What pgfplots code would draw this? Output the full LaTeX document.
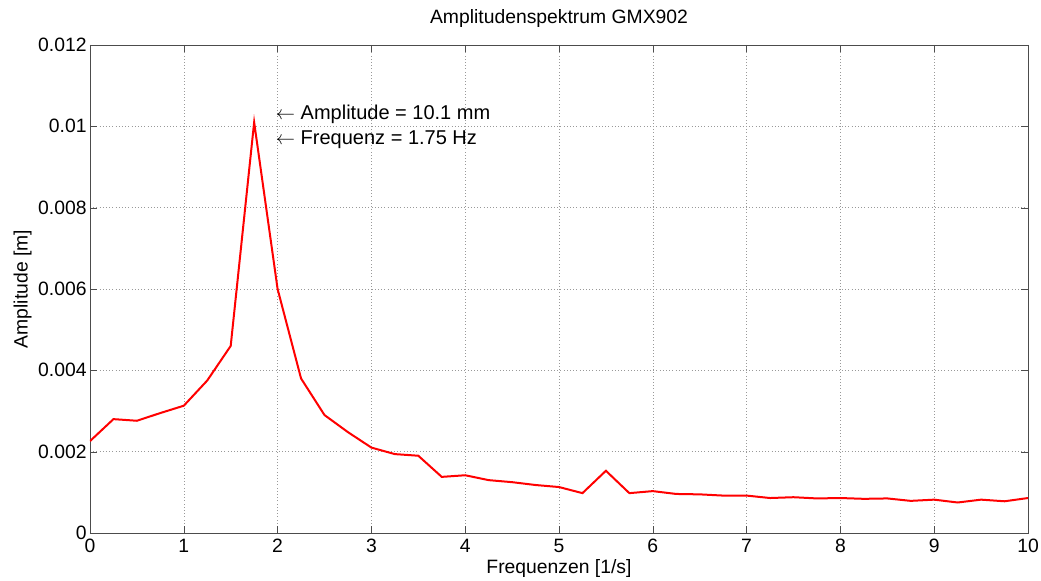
\documentclass[border=0pt]{standalone}
\usepackage{pgfplots}
\pgfplotsset{compat=1.18}
\usepackage{fontspec}
\setmainfont{Liberation Sans}
\begin{document}
\begin{tikzpicture}
\useasboundingbox (-67.5pt,-36pt) rectangle (713.25pt,399.75pt);
\begin{axis}[
  scale only axis,
  width=703.5pt, height=366pt,
  xmin=0, xmax=10, ymin=0, ymax=0.012,
  xtick={0,1,...,10},
  ytick={0,0.002,0.004,0.006,0.008,0.01,0.012},
  yticklabels={0,0.002,0.004,0.006,0.008,0.01,0.012},
  scaled y ticks=false,
  /pgf/number format/assume math mode=true,
  tick label style={font=\fontsize{14.5}{16}\selectfont},
  label style={font=\fontsize{14.5}{16}\selectfont},
  title style={font=\fontsize{14.5}{16}\selectfont, yshift=3.5pt},
  title={Amplitudenspektrum GMX902},
  xlabel={Frequenzen [1/s]},
  ylabel={Amplitude [m]},
  xticklabel style={yshift=-1pt},
  yticklabel style={xshift=1pt},
  xlabel style={yshift=1.5pt},
  ylabel style={yshift=-2pt},
  grid=major,
  major grid style={dotted, gray!80},
  axis line style={black!70},
  tick style={black!70},
  major tick length=5pt,
  tick align=inside,
]
\addplot[red, line width=1.5pt] coordinates {
(0,0.00226) (0.25,0.0028) (0.5,0.00276) (0.75,0.00295) (1,0.00313)
(1.25,0.00375) (1.5,0.0046) (1.75,0.0101) (2,0.006) (2.25,0.0038)
(2.5,0.0029) (2.75,0.00248) (3,0.0021) (3.25,0.00194) (3.5,0.0019)
(3.75,0.00138) (4,0.00142) (4.25,0.0013) (4.5,0.00125) (4.75,0.00118)
(5,0.00113) (5.25,0.00098) (5.5,0.00153) (5.75,0.00098) (6,0.00103)
(6.25,0.00096) (6.5,0.00095) (6.75,0.00092) (7,0.00092) (7.25,0.00086)
(7.5,0.00088) (7.75,0.00085) (8,0.00086) (8.25,0.00084) (8.5,0.00085)
(8.75,0.00079) (9,0.00082) (9.25,0.00075) (9.5,0.00082) (9.75,0.00078)
(10,0.00086)
};
\node[anchor=west, font=\fontsize{15}{17}\selectfont, inner sep=0pt] at (axis cs:1.98,0.0103) {$\leftarrow$ Amplitude = 10.1 mm};
\node[anchor=west, font=\fontsize{15}{17}\selectfont, inner sep=0pt] at (axis cs:1.98,0.00966) {$\leftarrow$ Frequenz = 1.75 Hz};
\end{axis}
\end{tikzpicture}
\end{document}
